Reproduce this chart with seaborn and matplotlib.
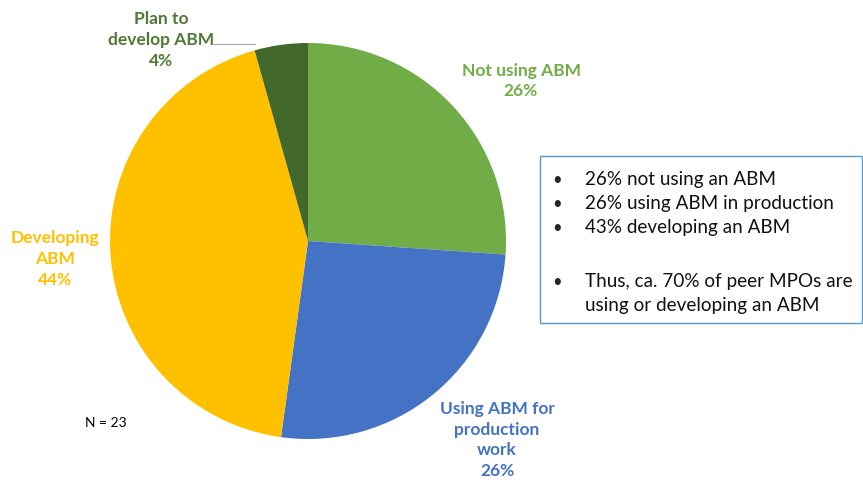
import matplotlib
matplotlib.use("Agg")
import matplotlib.pyplot as plt
import seaborn as sns

# survey of peer MPOs, N = 23
categories = ["Not using ABM", "Using ABM for\nproduction\nwork", "Developing\nABM", "Plan to\ndevelop ABM"]
counts = [6, 6, 10, 1]
pct_labels = ["26%", "26%", "44%", "4%"]
colors = ["#70AD47", "#4472C4", "#FFC000", "#43682B"]
label_colors = ["#70AD47", "#4472C4", "#FFC000", "#4E7A35"]
notes = ["26% not using an ABM", "26% using ABM in production", "43% developing an ABM",
         "", "Thus, ca. 70% of peer MPOs are\nusing or developing an ABM"]

sns.set_theme(style="white")
plt.rcParams['font.family'] = ['Lato', 'DejaVu Sans']

W, H = 863, 481
fig = plt.figure(figsize=(W / 100, H / 100), dpi=100)
fig.patch.set_facecolor("white")

# pie placed at center (308, 242) px, radius 198 px
cx, cy, r = 308, 242, 198
ax = fig.add_axes([(cx - r) / W, (H - cy - r) / H, 2 * r / W, 2 * r / H])
wedges, _ = ax.pie(counts, colors=colors, startangle=90, counterclock=False,
                   radius=1.0, wedgeprops=dict(linewidth=0))
ax.set_xlim(-1, 1)
ax.set_ylim(-1, 1)
ax.set_aspect("equal")
ax.axis("off")

def px(x, y):
    return x / W, 1 - y / H

# slice labels (figure pixel positions of label centers)
label_pos = [(521, 81), (497, 440), (55, 259), (161, 40)]
for name, pct, col, (x, y) in zip(categories, pct_labels, label_colors, label_pos):
    fig.text(*px(x, y), name + "\n" + pct, color=col, fontsize=12.5, fontweight="bold",
             ha="center", va="center", linespacing=1.38)

# leader line for the small slice
fig.add_artist(plt.Line2D([213 / W, 255 / W], [1 - 45 / H, 1 - 45 / H],
                          color="#A6A6A6", lw=0.8, transform=fig.transFigure))

fig.text(*px(85, 423), "N = 23", fontsize=10, color="black", ha="left", va="center")

# notes box
box = plt.Rectangle(px(540, 324), (862 - 540) / W, (324 - 157) / H, transform=fig.transFigure,
                    fill=False, edgecolor="#5B9BD5", lw=1.0)
fig.add_artist(box)
y = 180
for note in notes:
    if not note:
        y += 30
        continue
    for i, line in enumerate(note.split("\n")):
        if i == 0:
            fig.text(*px(552, y), "•", fontsize=12, ha="left", va="center")
        fig.text(*px(585, y), line, fontsize=13.6, ha="left", va="center", color="#111111")
        y += 24
fig.savefig("out.png", dpi=100, facecolor="white")
